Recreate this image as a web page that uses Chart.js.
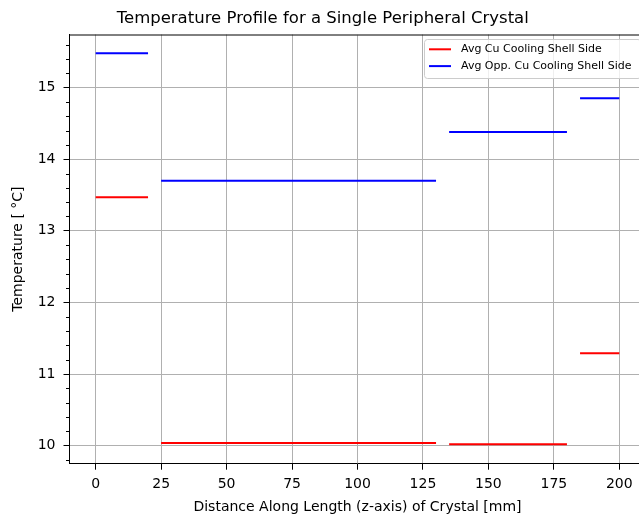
<!DOCTYPE html>
<html>
<head>
<meta charset="utf-8">
<script src="https://cdn.jsdelivr.net/npm/chart.js@4.4.1/dist/chart.umd.min.js"></script>
<style>
    html, body { margin: 0; padding: 0; background: #fff; overflow: hidden; }
    #wrap { width: 639px; height: 517px; overflow: hidden; }
</style>
</head>
<body>
<div id="wrap"><canvas id="tempCanvas" width="650" height="517"></canvas></div>
<script>
// segments along the crystal (mm)
const segStart = [0, 25, 135, 185];
const segEnd = [20, 130, 180, 200];

// average temperature per segment
const cuSideTemps = [13.47, 10.04, 10.02, 11.29];
const oppSideTemps = [15.48, 13.70, 14.38, 14.85];

const seriesNames = ['Avg Cu Cooling Shell Side', 'Avg Opp. Cu Cooling Shell Side'];
const seriesColors = ['#ff0000', '#0000ff'];

const xTicks = [0, 25, 50, 75, 100, 125, 150, 175, 200];
const yTicks = [10, 11, 12, 13, 14, 15];

// flat step per segment, with a gap point between segments
function buildSegments(temps) {
    let pts = [];
    for (let i = 0; i < segStart.length; i++) {
        pts.push({ x: segStart[i], y: temps[i] });
        pts.push({ x: segEnd[i], y: temps[i] });
        if (i < segStart.length - 1) {
            pts.push({ x: (segEnd[i] + segStart[i + 1]) / 2, y: null });
        }
    }
    return pts;
}

const FONT = "'DejaVu Sans', sans-serif";

// top spine, minor y ticks and the matplotlib style legend
const axesExtras = {
    id: 'axesExtras',
    afterDraw: function (chart) {
        const ctx = chart.ctx;
        const a = chart.chartArea;
        const ys = chart.scales.y;
        ctx.save();
        ctx.strokeStyle = '#000';
        ctx.lineWidth = 1;
        ctx.beginPath();
        ctx.moveTo(a.left, a.top + 0.5);
        ctx.lineTo(a.right, a.top + 0.5);
        ctx.stroke();

        // minor ticks every 0.2
        ctx.beginPath();
        for (let v = 9.8; v < ys.max; v += 0.2) {
            let r = Math.round(v * 10) / 10;
            if (Math.abs(r - Math.round(r)) < 0.01) continue;
            let py = Math.round(ys.getPixelForValue(r)) + 0.5;
            ctx.moveTo(a.left - 3.5, py);
            ctx.lineTo(a.left, py);
        }
        ctx.stroke();

        // legend
        const fl = 424, ft = a.top + 4.5, fw = a.right - 5 - fl, fh = 39;
        ctx.beginPath();
        ctx.roundRect(fl + 0.5, ft + 0.5, fw, fh, 3);
        ctx.fillStyle = 'rgba(255,255,255,0.8)';
        ctx.fill();
        ctx.strokeStyle = '#cccccc';
        ctx.stroke();
        ctx.font = '11px ' + FONT;
        ctx.textBaseline = 'middle';
        ctx.textAlign = 'left';
        for (let i = 0; i < seriesNames.length; i++) {
            let ry = ft + 10.3 + i * 16.8;
            ctx.strokeStyle = seriesColors[i];
            ctx.lineWidth = 2;
            ctx.beginPath();
            ctx.moveTo(fl + 5, ry);
            ctx.lineTo(fl + 27, ry);
            ctx.stroke();
            ctx.fillStyle = '#000';
            ctx.fillText(seriesNames[i], fl + 37, ry);
        }
        ctx.restore();
    }
};

const datasets = [cuSideTemps, oppSideTemps].map((t, i) => ({
    label: seriesNames[i],
    data: buildSegments(t),
    borderColor: seriesColors[i],
    backgroundColor: seriesColors[i],
    borderWidth: 2,
    pointRadius: 0,
    showLine: true,
    spanGaps: false,
    borderCapStyle: 'butt'
}));

new Chart(document.getElementById('tempCanvas'), {
    type: 'scatter',
    data: { datasets: datasets },
    plugins: [axesExtras],
    options: {
        responsive: false,
        animation: false,
        layout: { padding: { left: 0, right: 4.5, top: 0, bottom: 0 } },
        plugins: {
            legend: { display: false },
            tooltip: { enabled: false },
            title: {
                display: true,
                text: 'Temperature Profile for a Single Peripheral Crystal',
                color: '#000',
                font: { family: FONT, size: 16.5, weight: 'normal' },
                padding: { top: 9, bottom: 5.7 }
            }
        },
        scales: {
            x: {
                type: 'linear',
                min: -10,
                max: 210,
                afterBuildTicks: s => { s.ticks = xTicks.map(v => ({ value: v })); },
                afterFit: s => { s.height = 53.3; },
                grid: { color: '#b0b0b0', lineWidth: 1, tickColor: '#000', tickLength: 6 },
                border: { color: '#000', width: 1 },
                ticks: { color: '#000', font: { family: FONT, size: 14 }, padding: 6, maxRotation: 0 },
                title: {
                    display: true,
                    text: 'Distance Along Length (z-axis) of Crystal [mm]',
                    color: '#000',
                    font: { family: FONT, size: 14 },
                    padding: { top: 0, bottom: 1.5 }
                }
            },
            y: {
                type: 'linear',
                min: 9.75,
                max: 15.74,
                afterBuildTicks: s => { s.ticks = yTicks.map(v => ({ value: v })); },
                afterFit: s => { s.width = 69.5; },
                grid: { color: '#b0b0b0', lineWidth: 1, tickColor: '#000', tickLength: 6 },
                border: { color: '#000', width: 1 },
                ticks: { color: '#000', font: { family: FONT, size: 14 }, padding: 8 },
                title: {
                    display: true,
                    text: 'Temperature [ °C]',
                    color: '#000',
                    font: { family: FONT, size: 14 },
                    padding: { top: 10, bottom: 0 }
                }
            }
        }
    }
});
</script>
</body>
</html>
